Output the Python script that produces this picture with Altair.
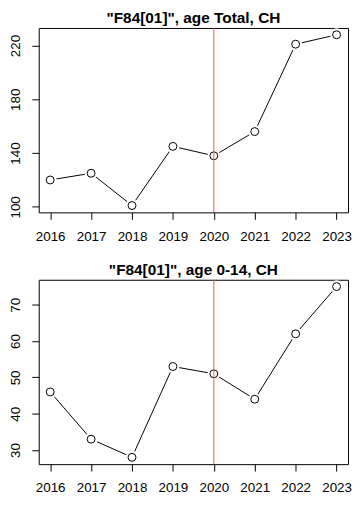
import altair as alt
import pandas as pd

years = [2016, 2017, 2018, 2019, 2020, 2021, 2022, 2023]
total = [120, 125, 101, 145, 138, 156, 221, 228]
age014 = [46, 33, 28, 53, 51, 44, 62, 75]
vline_year = [2020]
titles = ['"F84[01]", age Total, CH', '"F84[01]", age 0-14, CH']
yticks_total = [100, 140, 180, 220]
yticks_014 = [30, 40, 50, 60, 70]


def rdomain(vals):
    lo, hi = min(vals), max(vals)
    pad = (hi - lo) * 0.04
    return [lo - pad, hi + pad]


def panel(values, title, yticks):
    df = pd.DataFrame({"year": years, "value": values})
    xdom = rdomain(years)
    x = alt.X("year:Q",
              scale=alt.Scale(domain=xdom, nice=False, zero=False),
              axis=alt.Axis(values=years, format="d", title=None, labelPadding=10,
                            labelFlush=False, labelOverlap=False))
    y = alt.Y("value:Q",
              scale=alt.Scale(domain=rdomain(values), nice=False, zero=False),
              axis=alt.Axis(values=yticks, title=None, labelAngle=270, labelAlign="center",
                            labelBaseline="alphabetic", labelPadding=12, labelFlush=False,
                            labelOverlap=False))
    base = alt.Chart(df).encode(x=x, y=y)
    line = base.mark_line(color="black", strokeWidth=1)
    gaps = base.mark_point(shape="circle", filled=True, color="white", size=170, opacity=1)
    pts = base.mark_point(shape="circle", filled=False, color="black", size=64,
                          strokeWidth=1, opacity=1)
    rule = alt.Chart(pd.DataFrame({"year": vline_year})).mark_rule(
        color="#EE5A5A", strokeWidth=1).encode(x=x)
    return alt.layer(line, gaps, pts, rule).properties(title=title, width=312, height=186)


chart = alt.vconcat(
    panel(total, titles[0], yticks_total),
    panel(age014, titles[1], yticks_014),
    spacing=19,
).properties(
    padding={"left": 0, "top": 0, "right": 0, "bottom": 0}
).configure_view(
    stroke="black", strokeWidth=1
).configure_axis(
    domain=False, grid=False, tickColor="black", tickSize=7, tickWidth=1,
    labelFont="Liberation Sans", labelFontSize=13.5, labelColor="black"
).configure_title(
    font="Liberation Sans", fontSize=15.5, fontWeight="bold", color="black", offset=1
)

chart.save("out.html", embed_options={"renderer": "svg", "actions": False})
